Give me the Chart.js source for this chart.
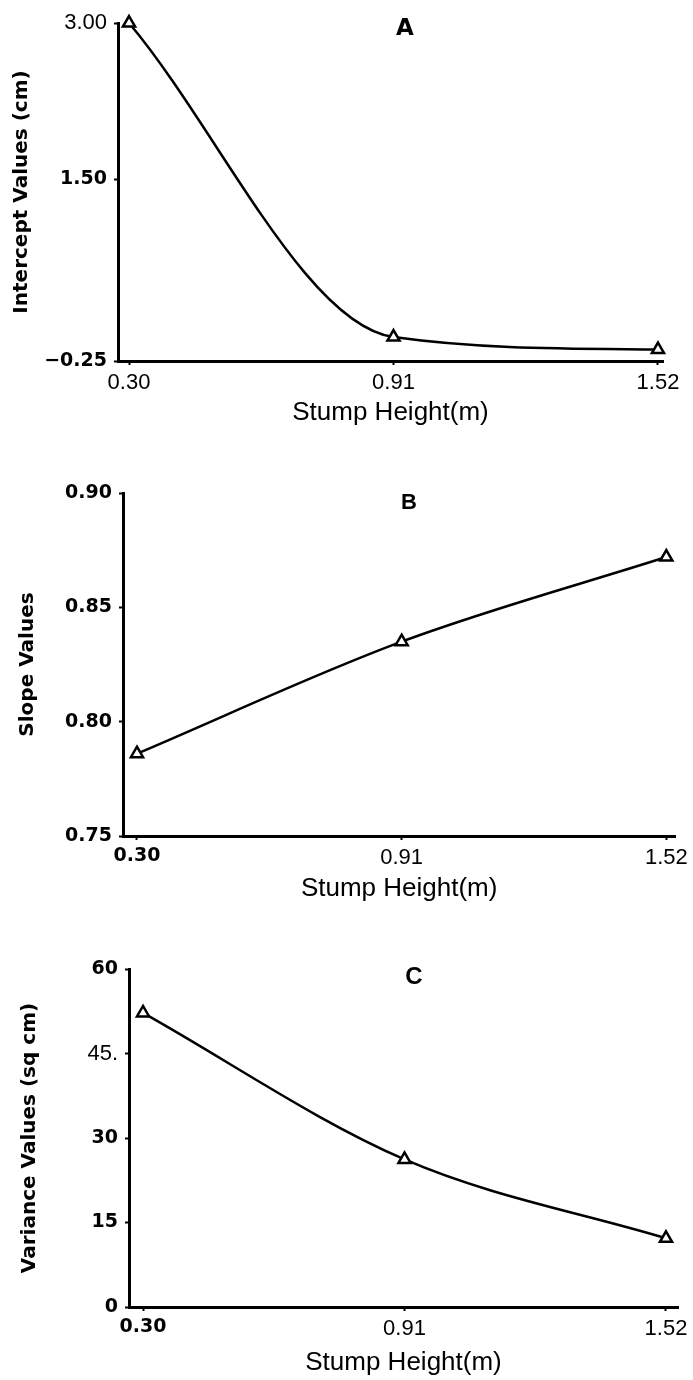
<!DOCTYPE html>
<html>
<head>
<meta charset="utf-8">
<script src="https://cdn.jsdelivr.net/npm/chart.js@4.4.0/dist/chart.umd.min.js"></script>
<style>
  html, body { margin: 0; padding: 0; background: #fff; }
  body { width: 693px; height: 1380px; position: relative; overflow: hidden; }
  canvas { position: absolute; left: 0; }
</style>
</head>
<body>
<canvas id="chartA" width="693" height="430" style="top:0px"></canvas>
<canvas id="chartB" width="693" height="470" style="top:440px"></canvas>
<canvas id="chartC" width="693" height="460" style="top:920px"></canvas>
<script>
// data
const stumpHeights = [0.30, 0.91, 1.52];
const xTickLabels = ['0.30', '0.91', '1.52'];

const interceptValues = [3.00, -0.02, -0.14];
const interceptTicks = [-0.25, 1.50, 3.00];
const interceptTickLabels = ['\u22120.25', '1.50', '3.00'];

const slopeValues = [0.786, 0.835, 0.872];
const slopeTicks = [0.75, 0.80, 0.85, 0.90];
const slopeTickLabels = ['0.75', '0.80', '0.85', '0.90'];

const varianceValues = [52.2, 26.2, 12.2];
const varianceTicks = [0, 15, 30, 45, 60];
const varianceTickLabels = ['0', '15', '30', '45.', '60'];

const BOLD = { family: 'DejaVu Sans', weight: 'bold', size: 19 };
const NARROW = { family: '"Liberation Sans", sans-serif', weight: 'normal', size: 22 };

// panel letter (A, B, C) drawn inside the plot area
const panelLetter = {
  id: 'panelLetter',
  afterDraw(chart, args, opts) {
    const ctx = chart.ctx;
    ctx.save();
    ctx.font = opts.font;
    ctx.fillStyle = '#000';
    ctx.textAlign = 'center';
    ctx.textBaseline = 'middle';
    ctx.fillText(opts.text, opts.x, opts.y);
    ctx.restore();
  }
};

function makeChart(id, cfg) {
  const canvas = document.getElementById(id);
  const H = canvas.height;
  const area = cfg.area;
  const pickFont = (boldVals) => (c) => (c.tick && boldVals.includes(c.tick.value)) ? BOLD : NARROW;

  return new Chart(canvas, {
    type: 'line',
    data: {
      datasets: [{
        data: stumpHeights.map((x, i) => ({ x: x, y: cfg.values[i] })),
        borderColor: '#000',
        borderWidth: 2.5,
        pointStyle: 'triangle',
        pointRadius: 7,
        pointBorderWidth: 2.5,
        pointBackgroundColor: '#fff',
        pointBorderColor: '#000',
        cubicInterpolationMode: 'monotone',
        fill: false,
        clip: false
      }]
    },
    options: {
      responsive: false,
      animation: false,
      events: [],
      layout: { padding: { top: area.top, right: canvas.width - area.right, left: 0, bottom: 0 } },
      plugins: {
        legend: { display: false },
        tooltip: { enabled: false },
        panelLetter: cfg.letter
      },
      scales: {
        x: {
          type: 'linear',
          min: cfg.xMin,
          max: cfg.xMax,
          afterFit(s) { s.height = H - area.bottom; },
          afterBuildTicks(s) { s.ticks = stumpHeights.map(v => ({ value: v })); },
          ticks: {
            callback: (v) => xTickLabels[stumpHeights.indexOf(v)],
            font: pickFont(cfg.xBold),
            color: '#000',
            padding: 5,
            maxRotation: 0,
            autoSkip: false
          },
          grid: { drawOnChartArea: false, tickLength: 4, tickWidth: 2, color: '#000' },
          border: { width: 3, color: '#000' },
          title: {
            display: true,
            text: 'Stump Height(m)',
            color: '#000',
            font: { family: 'Liberation Sans', size: 26 },
            padding: { top: 0, bottom: cfg.xTitlePad }
          }
        },
        y: {
          type: 'linear',
          min: cfg.yMin,
          max: cfg.yMax,
          afterFit(s) { s.width = area.left; },
          afterBuildTicks(s) { s.ticks = cfg.yTicks.map(v => ({ value: v })); },
          ticks: {
            callback: (v) => cfg.yLabels[cfg.yTicks.indexOf(v)],
            font: pickFont(cfg.yBold),
            color: '#000',
            padding: 7,
            autoSkip: false
          },
          grid: { drawOnChartArea: false, tickLength: 4, tickWidth: 2, color: '#000' },
          border: { width: 3, color: '#000' },
          title: {
            display: true,
            text: cfg.yTitle,
            color: '#000',
            font: { family: 'DejaVu Sans', size: 20, weight: 'bold' },
            padding: { top: cfg.yTitlePad, bottom: 0 }
          }
        }
      }
    },
    plugins: [panelLetter]
  });
}

makeChart('chartA', {
  values: interceptValues,
  area: { left: 118, top: 23, right: 663, bottom: 361 },
  xMin: 0.2746, xMax: 1.5316,
  yMin: -0.25, yMax: 3.00,
  yTicks: interceptTicks, yLabels: interceptTickLabels,
  yBold: [-0.25, 1.50], xBold: [],
  yTitle: 'Intercept Values (cm)', yTitlePad: 10, xTitlePad: 2,
  letter: { text: 'A', x: 405, y: 29, font: 'bold 23px "DejaVu Sans"' }
});

makeChart('chartB', {
  values: slopeValues,
  area: { left: 123, top: 53, right: 676, bottom: 396 },
  xMin: 0.2678, xMax: 1.5407,
  yMin: 0.75, yMax: 0.90,
  yTicks: slopeTicks, yLabels: slopeTickLabels,
  yBold: [0.75, 0.80, 0.85, 0.90], xBold: [0.30],
  yTitle: 'Slope Values', yTitlePad: 16, xTitlePad: 6,
  letter: { text: 'B', x: 409, y: 63, font: 'bold 22px "Liberation Sans"' }
});

makeChart('chartC', {
  values: varianceValues,
  area: { left: 129, top: 49, right: 678, bottom: 387 },
  xMin: 0.2673, xMax: 1.548,
  yMin: 0, yMax: 60,
  yTicks: varianceTicks, yLabels: varianceTickLabels,
  yBold: [0, 15, 30, 60], xBold: [0.30],
  yTitle: 'Variance Values (sq cm)', yTitlePad: 18, xTitlePad: 2,
  letter: { text: 'C', x: 414, y: 57, font: 'bold 24px "Liberation Sans"' }
});
</script>
</body>
</html>
